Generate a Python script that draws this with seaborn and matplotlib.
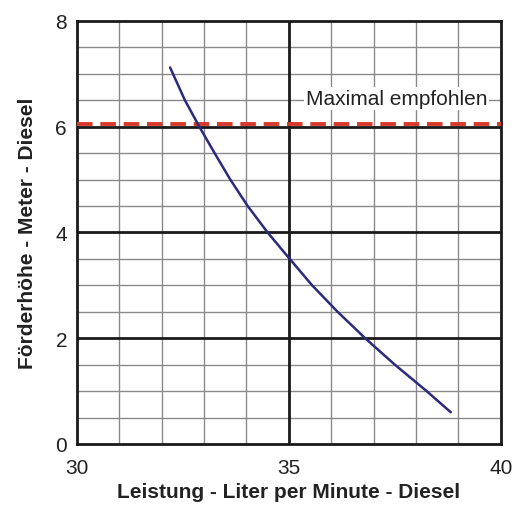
import matplotlib
matplotlib.use("Agg")
import matplotlib.pyplot as plt
import seaborn as sns
import pandas as pd

# Kennlinie der Pumpe
leistung = [32.2, 32.55, 32.89, 33.25, 33.62, 34.03, 34.5, 35.0, 35.55, 36.15, 36.8, 37.5, 38.25, 38.82]
foerderhoehe = [7.12, 6.5, 6.0, 5.5, 5.0, 4.5, 4.0, 3.52, 3.0, 2.5, 2.0, 1.5, 1.0, 0.6]

max_empfohlen = 6.05
max_text = "Maximal empfohlen"

x_ticks = [30, 35, 40]
y_ticks = [0, 2, 4, 6, 8]

df = pd.DataFrame({"Leistung": leistung, "Foerderhoehe": foerderhoehe})

sns.set_style("white")
plt.rcParams['font.family'] = ['Liberation Sans', 'DejaVu Sans']

fig = plt.figure(figsize=(5.19, 5.06), dpi=100)
ax = fig.add_axes([0.148, 0.1206, 0.817, 0.836])

# Gitter
for xv in range(31, 40):
    if xv != 35:
        ax.axvline(xv, color='#8a8a8a', lw=1, zorder=1)
for yv in [i * 0.5 for i in range(1, 16)]:
    if yv not in (2, 4, 6):
        ax.axhline(yv, color='#8a8a8a', lw=1, zorder=1)
ax.axvline(35, color='#1a1a1a', lw=2, zorder=2)
for yv in (2, 4, 6):
    ax.axhline(yv, color='#1a1a1a', lw=2, zorder=2)

ax.axhline(max_empfohlen, color='#d9392b', lw=2.8, ls=(0, (4, 2)), zorder=3)
ax.text(37.54, 6.53, max_text, fontsize=15, ha='center', va='center', color='#222222',
        bbox=dict(facecolor='white', edgecolor='none', pad=1.5), zorder=4)

sns.lineplot(data=df, x="Leistung", y="Foerderhoehe", color='#2b2a80', lw=1.8, ax=ax, zorder=5)

ax.set_xlim(30, 40)
ax.set_ylim(0, 8)
ax.set_xticks(x_ticks)
ax.set_yticks(y_ticks)
ax.tick_params(axis='both', length=0, labelsize=15, labelcolor='#222222')
ax.tick_params(axis='x', pad=10)
ax.tick_params(axis='y', pad=7)
for s in ax.spines.values():
    s.set_color('#1a1a1a')
    s.set_linewidth(2)

ax.set_xlabel("Leistung - Liter per Minute - Diesel", fontsize=15, fontweight='bold',
              color='#222222', labelpad=4)
ax.set_ylabel("Förderhöhe - Meter - Diesel", fontsize=15, fontweight='bold',
              color='#222222', labelpad=13)

fig.savefig("out.png", dpi=100, facecolor='white')
